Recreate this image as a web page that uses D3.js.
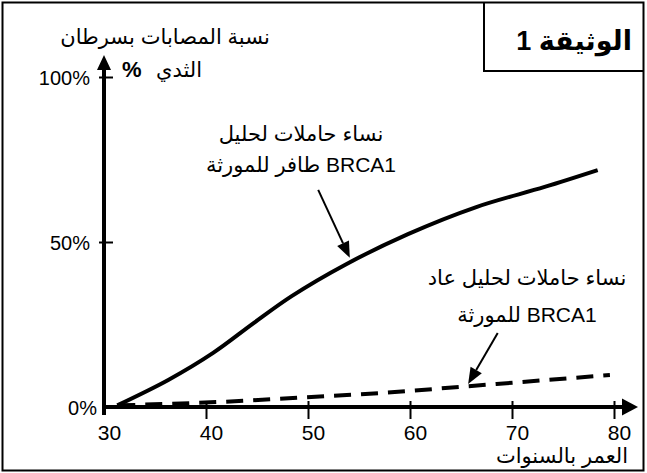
<!DOCTYPE html>
<html>
<head>
<meta charset="utf-8">
<script src="https://cdn.jsdelivr.net/npm/d3@7"></script>
<style>
  body { margin: 0; background: #fff; }
  text { font-family: "Liberation Sans", "DejaVu Sans", sans-serif; fill: #000; }
</style>
</head>
<body>
<div id="chart"></div>
<script>
// ages (years) and share of women with breast cancer (%)
const mutatedAge  = [31.3, 36.3, 40.7, 44.7, 48.4, 53.7, 59.8, 66.5, 73.2, 78.4]
const mutatedRisk = [0.5, 8.2, 16.4, 25.5, 33.6, 43.2, 52.4, 60.6, 66.7, 71.8]
const normalAge   = [31.4, 41.1, 49.5, 57.0, 65.7, 72.7, 79.6]
const normalRisk  = [0.5, 1.5, 2.9, 4.2, 6.3, 8.0, 9.7]

const xTicks = [30, 40, 50, 60, 70, 80]
const yTicks = [0, 50, 100]

const titleText = "الوثيقة 1"
const yTitle1 = "نسبة المصابات بسرطان"
const yTitle2 = "الثدي"
const xTitle = "العمر بالسنوات"
const mutatedLabel = ["نساء حاملات لحليل", "طافر للمورثة BRCA1"]
const normalLabel = ["نساء حاملات لحليل عاد", "للمورثة BRCA1"]

// arrows pointing at the curves, in data units [age, %]
const mutatedArrow = [[51.0, 65.8], [54.1, 45.2]]
const normalArrow  = [[68.6, 22.4], [65.7, 7.0]]

async function drawChart() {

  const width = 647
  const height = 473

  const svg = d3.select("#chart")
    .append("svg")
      .attr("width", width)
      .attr("height", height)

  // frame + title box
  svg.append("rect")
      .attr("x", 2.5).attr("y", 2.5)
      .attr("width", 641).attr("height", 468)
      .attr("fill", "none")
      .attr("stroke", "#000")
      .attr("stroke-width", 2)

  svg.append("path")
      .attr("d", "M484,2.5 V71 H644")
      .attr("fill", "none")
      .attr("stroke", "#000")
      .attr("stroke-width", 2)

  svg.append("text")
      .attr("x", 632).attr("y", 50)
      .attr("direction", "rtl")
      .attr("text-anchor", "start")
      .style("font-size", "27px")
      .style("font-weight", "bold")
      .text(titleText)

  const x = d3.scaleLinear()
    .domain([30, 80])
    .range([104, 614])

  const y = d3.scaleLinear()
    .domain([0, 100])
    .range([407, 77])

  // axis lines with arrow heads
  const x0 = x(30), x1 = x(80)
  const y0 = y(0), y1 = y(100)

  svg.append("line")
      .attr("x1", x0).attr("x2", x1 + 10)
      .attr("y1", y0).attr("y2", y0)
      .attr("stroke", "#000").attr("stroke-width", 4)
  svg.append("path")
      .attr("d", `M${x1 + 24},${y0} L${x1 + 8},${y0 - 8.5} L${x1 + 8},${y0 + 8.5} Z`)
      .attr("fill", "#000")

  svg.append("line")
      .attr("x1", x0).attr("x2", x0)
      .attr("y1", y0 + 8).attr("y2", y1 - 9)
      .attr("stroke", "#000").attr("stroke-width", 4)
  svg.append("path")
      .attr("d", `M${x0},${y1 - 22} L${x0 - 7},${y1 - 7} L${x0 + 7},${y1 - 7} Z`)
      .attr("fill", "#000")

  // x ticks
  const xAxis = svg.append("g")
      .attr("transform", `translate(0,${y0})`)
      .call(d3.axisBottom(x).tickValues(xTicks).tickSize(12).tickSizeOuter(0).tickFormat(d => d))
  xAxis.select(".domain").remove()
  xAxis.selectAll(".tick line")
      .attr("y1", -6)
      .attr("stroke-width", 2)
      .attr("opacity", d => d === 30 ? 0 : 1)
  xAxis.selectAll(".tick text")
      .attr("y", 18)
      .attr("dx", 5)
      .style("font-size", "21px")
      .style("font-family", "'Liberation Sans', sans-serif")

  // y ticks
  const yAxis = svg.append("g")
      .attr("transform", `translate(${x0},0)`)
      .call(d3.axisLeft(y).tickValues(yTicks).tickSize(4).tickSizeOuter(0).tickFormat(d => d + "%"))
  yAxis.select(".domain").remove()
  yAxis.selectAll(".tick line")
      .attr("x2", -5)
      .attr("x1", 9)
      .attr("stroke-width", 2)
      .attr("opacity", d => d === 0 ? 0 : 1)
  yAxis.selectAll(".tick text")
      .attr("x", d => d === 0 ? -7 : -14)
      .attr("dy", "0.36em")
      .style("font-size", "20px")
      .style("font-family", "'Liberation Sans', sans-serif")

  // axis titles
  svg.append("text")
      .attr("x", 165).attr("y", 44)
      .attr("text-anchor", "middle")
      .style("font-size", "21px")
      .text(yTitle1)
  svg.append("text")
      .attr("x", 202).attr("y", 77)
      .attr("text-anchor", "end")
      .style("font-size", "21px")
      .text(yTitle2)
  svg.append("text")
      .attr("x", 122).attr("y", 77)
      .style("font-size", "22px")
      .style("font-weight", "bold")
      .text("%")
  svg.append("text")
      .attr("x", 628).attr("y", 463)
      .attr("text-anchor", "end")
      .style("font-size", "21px")
      .text(xTitle)

  // curves
  const solidLine = d3.line()
    .curve(d3.curveCatmullRom)
    .x(d => x(d[0]))
    .y(d => y(d[1]))

  const dashLine = d3.line()
    .curve(d3.curveMonotoneX)
    .x(d => x(d[0]))
    .y(d => y(d[1]))

  svg.append("path")
      .attr("d", solidLine(d3.zip(mutatedAge, mutatedRisk)))
      .attr("fill", "none")
      .attr("stroke", "#000")
      .attr("stroke-width", 4)

  svg.append("path")
      .attr("d", dashLine(d3.zip(normalAge, normalRisk)))
      .attr("fill", "none")
      .attr("stroke", "#000")
      .attr("stroke-width", 4)
      .attr("stroke-dasharray", "17 10")

  // annotation arrows
  function arrow(pts) {
    const [ax, ay] = [x(pts[0][0]), y(pts[0][1])]
    const [bx, by] = [x(pts[1][0]), y(pts[1][1])]
    const ang = Math.atan2(by - ay, bx - ax)
    const len = 16, half = 6.5
    const cx = bx - len * Math.cos(ang), cy = by - len * Math.sin(ang)
    svg.append("line")
        .attr("x1", ax).attr("y1", ay)
        .attr("x2", cx).attr("y2", cy)
        .attr("stroke", "#000").attr("stroke-width", 2)
    svg.append("path")
        .attr("d", `M${bx},${by} L${cx + half * Math.sin(ang)},${cy - half * Math.cos(ang)} L${cx - half * Math.sin(ang)},${cy + half * Math.cos(ang)} Z`)
        .attr("fill", "#000")
  }
  arrow(mutatedArrow)
  arrow(normalArrow)

  // annotation labels
  svg.selectAll(".lab1")
    .data(mutatedLabel)
    .join("text")
      .attr("x", 301)
      .attr("y", (d, i) => i === 0 ? 141 : 172)
      .attr("text-anchor", "middle")
      .style("font-size", "21px")
      .text(d => d)

  svg.selectAll(".lab2")
    .data(normalLabel)
    .join("text")
      .attr("x", 527)
      .attr("y", (d, i) => i === 0 ? 285 : 322)
      .attr("text-anchor", "middle")
      .style("font-size", "21px")
      .text(d => d)
}
drawChart()
</script>
</body>
</html>
